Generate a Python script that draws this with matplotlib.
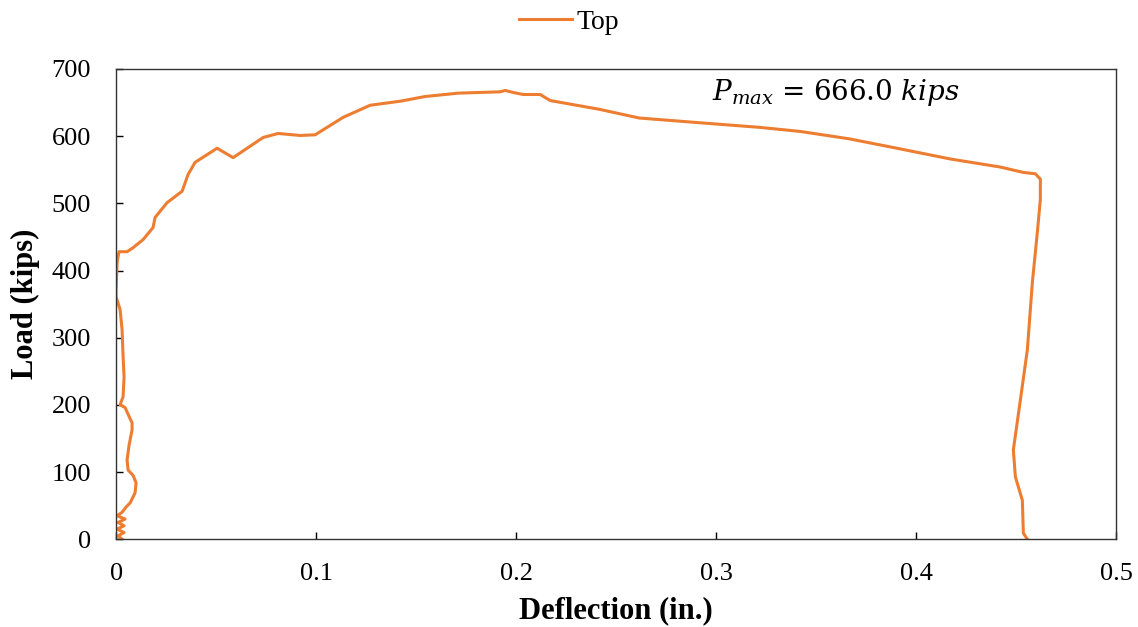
import numpy as np
import matplotlib.pyplot as plt
from matplotlib.ticker import FuncFormatter

# load-deflection data
deflection = [0.003, 0.001, 0.004, 0.0005, 0.004, 0.001, 0.0045, 0.0005, 0.003, 0.005,
              0.007, 0.0095, 0.010, 0.0085, 0.006, 0.0055, 0.0065, 0.008, 0.008, 0.0045,
              0.002, 0.0035, 0.004, 0.0035, 0.003, 0.002, 0.0, 0.0, 0.0005, 0.001,
              0.0015, 0.0055, 0.0085, 0.0135, 0.0185, 0.0195, 0.0255, 0.033, 0.036, 0.0395,
              0.0505, 0.0585, 0.0735, 0.081, 0.092, 0.0995, 0.1135, 0.127, 0.142, 0.1545,
              0.171, 0.192, 0.1945, 0.1985, 0.2035, 0.212, 0.217, 0.2415, 0.2615, 0.2915,
              0.322, 0.342, 0.3665, 0.392, 0.417, 0.442, 0.4535, 0.4595, 0.462, 0.462,
              0.4605, 0.458, 0.4555, 0.452, 0.4485, 0.4495, 0.453, 0.4535, 0.4555]
load = [0, 5, 10, 15, 20, 25, 30, 35, 40, 48,
        54, 69, 84, 95, 103, 118, 140, 163, 173, 196,
        200, 212, 242, 272, 312, 342, 361, 370, 412, 421,
        428, 428, 434, 446, 464, 479, 501, 518, 543, 561,
        582, 568, 598, 604, 601, 602, 628, 646, 652, 659,
        664, 666, 668, 665, 662, 662, 653, 640, 627, 620,
        613, 607, 596, 581, 566, 554, 546, 544, 536, 506,
        457, 382, 282, 207, 133, 93, 58, 9, 0]

x_ticks = [0, 0.1, 0.2, 0.3, 0.4, 0.5]
y_ticks = [0, 100, 200, 300, 400, 500, 600, 700]

plt.rcParams['font.family'] = ['Liberation Serif', 'DejaVu Serif']
plt.rcParams['mathtext.fontset'] = 'dejavuserif'

fig = plt.figure(figsize=(11.38, 6.27), dpi=100)
ax = fig.add_axes([0.102, 0.140, 0.879, 0.750])

ax.plot(deflection, load, color='#ED7D31', lw=2.2, label='Top')

ax.set_xlim(0, 0.5)
ax.set_ylim(0, 700)
ax.set_xticks(x_ticks)
ax.set_yticks(y_ticks)
ax.xaxis.set_major_formatter(FuncFormatter(lambda v, p: '0' if v == 0 else f'{v:g}'))
ax.tick_params(direction='in', length=5, width=1, labelsize=19, colors='black')
ax.tick_params(axis='y', pad=18)
ax.tick_params(axis='x', pad=17)
for s in ax.spines.values():
    s.set_linewidth(1.0)
    s.set_color('#333333')

ax.set_xlabel('Deflection (in.)', fontsize=22, fontweight='bold', labelpad=8)
ax.set_ylabel('Load (kips)', fontsize=22, fontweight='bold', labelpad=8)

ax.text(0.298, 665, r'$P_{max}$ = 666.0 $kips$', fontsize=20, va='center', ha='left',
        family='DejaVu Serif')

fig.legend(loc='upper center', bbox_to_anchor=(0.5, 1.025), frameon=False,
           fontsize=20, handlelength=1.9, handletextpad=0.15)

fig.savefig('out.png', dpi=100)
